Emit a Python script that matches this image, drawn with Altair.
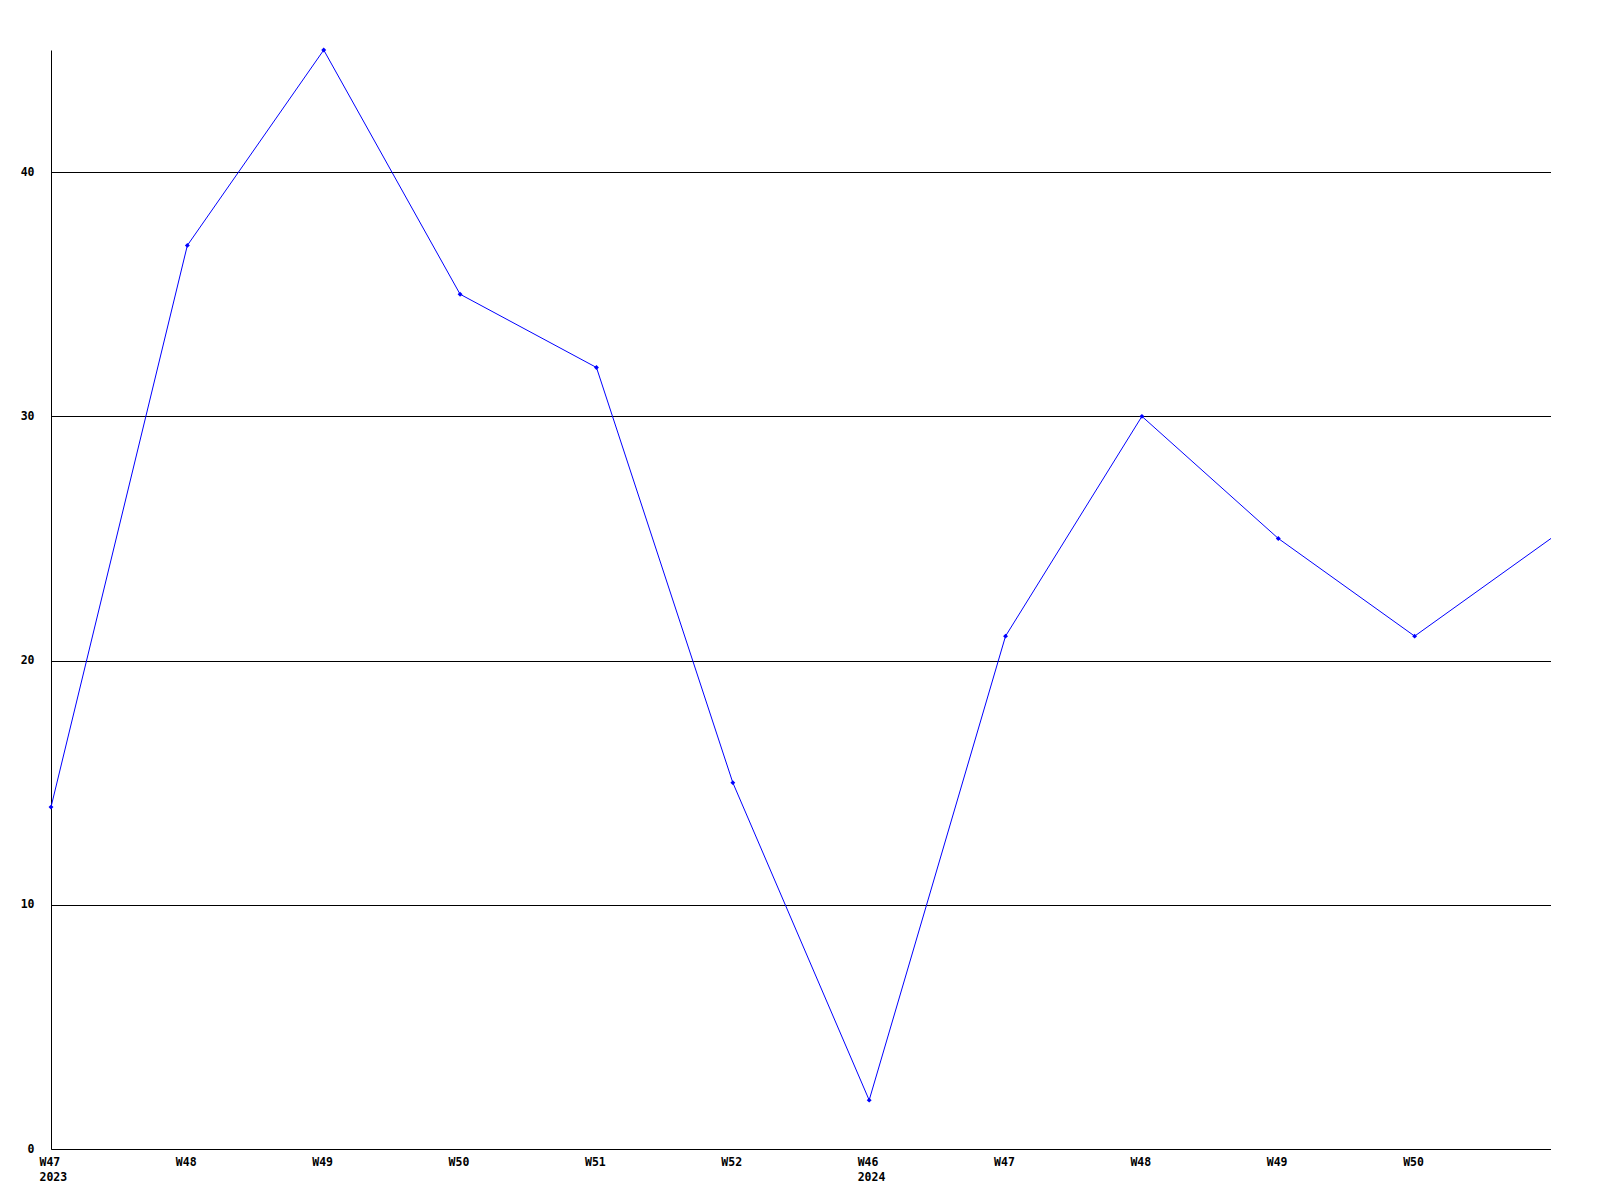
import altair as alt
import pandas as pd

weeks = ["W47", "W48", "W49", "W50", "W51", "W52", "W46", "W47", "W48", "W49", "W50", "W51"]
years = ["2023", "", "", "", "", "", "2024", "", "", "", "", ""]
values = [14, 37, 45, 35, 32, 15, 2, 21, 30, 25, 21, 25]
show_label = [True] * 11 + [False]

df = pd.DataFrame({
    "idx": list(range(len(values))),
    "value": values,
    "label": [(w + ("\n" + y if y else "")) if s else "" for w, y, s in zip(weeks, years, show_label)],
    "marker": show_label,
})

label_map = "{" + ",".join(f"'{i}': '{l}'".replace("\n", "\\n") for i, l in zip(df["idx"], df["label"])) + "}"

font = "DejaVu Sans Mono"

x = alt.X(
    "idx:Q",
    scale=alt.Scale(domain=[0, len(values) - 1], nice=False, zero=False),
    axis=alt.Axis(
        values=list(range(len(values))),
        labelExpr=f"split({label_map}[datum.value + ''], '\\n')",
        grid=False,
        ticks=False,
        domain=True,
        domainColor="black",
        domainWidth=1,
        labelFont=font,
        labelFontWeight="bold",
        labelFontSize=11.5,
        labelColor="black",
        labelAlign="left",
        labelBaseline="top",
        labelOffset=-12,
        labelPadding=7,
        labelLineHeight=15,
        labelOverlap=False,
        labelFlush=False,
        title=None,
    ),
)

y = alt.Y(
    "value:Q",
    scale=alt.Scale(domain=[0, 45], nice=False),
    axis=alt.Axis(
        values=[0, 10, 20, 30, 40],
        grid=True,
        gridColor="black",
        gridWidth=1,
        gridOpacity=1,
        ticks=False,
        domain=True,
        domainColor="black",
        domainWidth=1,
        labelFont=font,
        labelFontWeight="bold",
        labelFontSize=11.5,
        labelColor="black",
        labelPadding=17,
        labelBaseline="middle",
        labelFlush=False,
        title=None,
    ),
)

base = alt.Chart(df)

line = base.mark_line(color="#0000ff", strokeWidth=1).encode(x=x, y=y)
points = base.transform_filter("datum.marker").mark_point(
    shape="diamond", filled=True, color="#0000ff", size=24, opacity=1
).encode(x=x, y=y)

chart = (line + points).properties(
    width=1500,
    height=1099,
    background="white",
    autosize=alt.AutoSizeParams(type="none"),
    padding={"left": 43, "top": 42, "right": 0, "bottom": 60},
).configure_view(strokeWidth=0, strokeOpacity=0)

chart.save("out.html", embed_options={"renderer": "svg", "actions": False})
